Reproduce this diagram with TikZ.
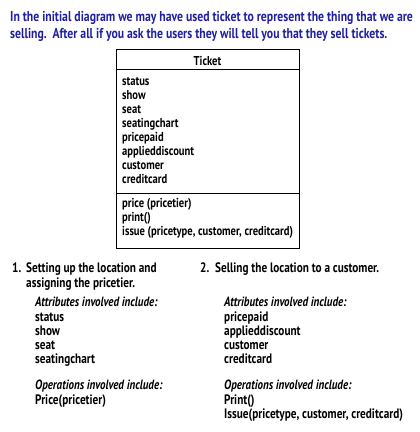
\documentclass[tikz,border=0pt]{standalone}
\usepackage{fontspec}
\setmainfont{PT Sans}[FakeStretch=0.82]
\newfontfamily\hdfont{PT Sans Bold}[FakeStretch=0.82]
\newfontfamily\itfont{PT Sans Bold Italic}[FakeStretch=0.82]
\definecolor{hblue}{RGB}{32,32,160}
\begin{document}
\begin{tikzpicture}[x=1pt,y=1pt,
  txt/.style={anchor=base west,inner sep=0pt,font=\hdfont\fontsize{12.9}{14}\selectfont},
  ltxt/.style={anchor=base west,inner sep=0pt,font=\hdfont\fontsize{13.7}{14}\selectfont},
  ital/.style={anchor=base west,inner sep=0pt,font=\itfont\fontsize{13.4}{14}\selectfont},
  head/.style={anchor=base west,inner sep=0pt,text=hblue,font=\hdfont\fontsize{14.3}{16}\selectfont},
  classbox/.style={draw=black,line width=0.9pt,inner sep=0pt,anchor=north west}]
\useasboundingbox (0,0) rectangle (420,-432);
% header
\node[head] (h1) at (10,-21) {In the initial diagram we may have used ticket to represent the thing that we are};
\node[head] (h2) at (10,-38) {selling.\ \ After all if you ask the users they will tell you that they sell tickets.};
% class box
\node[classbox,minimum width=183pt,minimum height=199pt] (box) at (116,-49) {};
\coordinate (s1l) at (116,-69); \coordinate (s1r) at (299,-69);
\coordinate (s2l) at (116,-193); \coordinate (s2r) at (299,-193);
\draw[line width=0.9pt] (s1l) -- (s1r);
\draw[line width=0.9pt] (s2l) -- (s2r);
\node[txt,anchor=base] (title) at (207.5,-65) {Ticket};
\node[txt] (a1) at (122,-85) {status};
\node[txt] (a2) at (122,-99) {show};
\node[txt] (a3) at (122,-113) {seat};
\node[txt] (a4) at (122,-127) {seatingchart};
\node[txt] (a5) at (122,-141) {pricepaid};
\node[txt] (a6) at (122,-155) {applieddiscount};
\node[txt] (a7) at (122,-169) {customer};
\node[txt] (a8) at (122,-183) {creditcard};
\node[txt] (o1) at (122,-207) {price (pricetier)};
\node[txt] (o2) at (122,-221) {print()};
\node[txt] (o3) at (122,-235) {issue (pricetype, customer, creditcard)};
% left column
\node[ltxt] (n1) at (12,-272) {1.};
\node[ltxt] (l1) at (26,-272) {Setting up the location and};
\node[ltxt] (l2) at (26,-287) {assigning the pricetier.};
\node[ital] (la) at (35,-306) {Attributes involved include:};
\node[ltxt] (la1) at (35,-321) {status};
\node[ltxt] (la2) at (35,-335) {show};
\node[ltxt] (la3) at (35,-349) {seat};
\node[ltxt] (la4) at (35,-363) {seatingchart};
\node[ital] (lo) at (35,-389) {Operations involved include:};
\node[ltxt] (lo1) at (35,-404) {Price(pricetier)};
% right column
\node[ltxt] (n2) at (200,-272) {2.};
\node[ltxt] (r1) at (215,-272) {Selling the location to a customer.};
\node[ital] (ra) at (224,-306) {Attributes involved include:};
\node[ltxt] (ra1) at (224,-321) {pricepaid};
\node[ltxt] (ra2) at (224,-335) {applieddiscount};
\node[ltxt] (ra3) at (224,-349) {customer};
\node[ltxt] (ra4) at (224,-363) {creditcard};
\node[ital] (ro) at (224,-389) {Operations involved include:};
\node[ltxt] (ro1) at (224,-404) {Print()};
\node[ltxt] (ro2) at (224,-418) {Issue(pricetype, customer, creditcard)};
\end{tikzpicture}
\end{document}
